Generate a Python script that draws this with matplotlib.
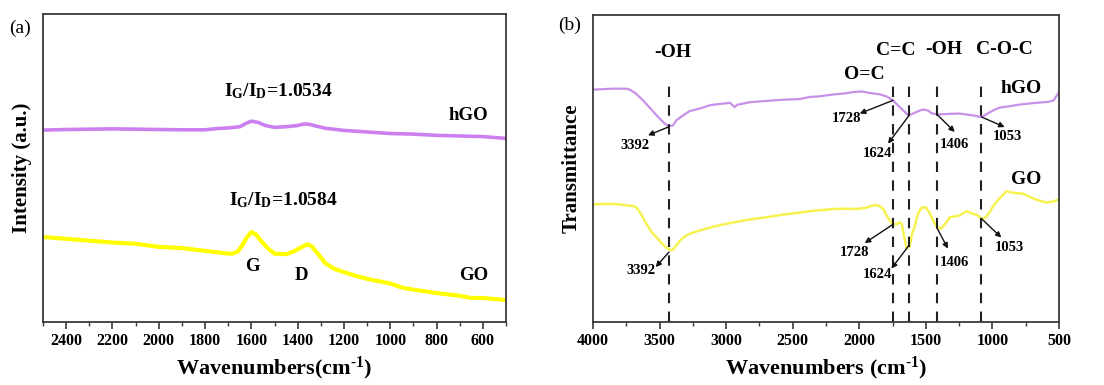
import matplotlib
matplotlib.use("Agg")
import matplotlib.pyplot as plt
import numpy as np

plt.rcParams['font.family'] = ['Liberation Serif', 'DejaVu Serif']
plt.rcParams['mathtext.fontset'] = 'custom'
plt.rcParams['mathtext.rm'] = 'Liberation Serif:bold'
plt.rcParams['mathtext.it'] = 'Liberation Serif:bold'
plt.rcParams['mathtext.bf'] = 'Liberation Serif:bold'

# ---------------- Panel (a): Raman ----------------
raman_hgo_x = [2500, 2400, 2300, 2200, 2100, 2000, 1900, 1800, 1750, 1700, 1650, 1620, 1600, 1570,
               1540, 1500, 1450, 1400, 1370, 1350, 1320, 1280, 1200, 1100, 1000, 900, 800, 700, 600, 500]
raman_hgo_y = [0.623, 0.625, 0.626, 0.627, 0.626, 0.625, 0.624, 0.624, 0.628, 0.630, 0.634, 0.646, 0.652, 0.648,
               0.638, 0.632, 0.634, 0.638, 0.643, 0.642, 0.636, 0.629, 0.622, 0.617, 0.612, 0.610, 0.606, 0.604, 0.602, 0.596]

raman_go_x = [2500, 2400, 2300, 2200, 2100, 2000, 1900, 1800, 1700, 1680, 1660, 1640, 1620, 1600, 1580,
              1560, 1530, 1500, 1450, 1420, 1400, 1380, 1360, 1340, 1320, 1300, 1280, 1240, 1200, 1150,
              1100, 1000, 950, 900, 800, 700, 650, 600, 500]
raman_go_y = [0.276, 0.270, 0.264, 0.258, 0.254, 0.244, 0.240, 0.231, 0.222, 0.222, 0.228, 0.248, 0.274, 0.292, 0.284,
              0.265, 0.240, 0.222, 0.220, 0.228, 0.236, 0.244, 0.252, 0.247, 0.228, 0.210, 0.190, 0.172, 0.162, 0.150,
              0.140, 0.125, 0.112, 0.105, 0.094, 0.085, 0.078, 0.078, 0.071]

# ---------------- Panel (b): FTIR ----------------
ftir_hgo_x = [4000, 3850, 3750, 3725, 3680, 3624, 3524, 3470, 3437, 3400, 3374, 3320, 3274, 3200, 3124,
              3050, 2973, 2950, 2936, 2915, 2898, 2823, 2700, 2573, 2450, 2373, 2300, 2197, 2100, 2047,
              1980, 1922, 1850, 1797, 1747, 1697, 1660, 1634, 1600, 1571, 1540, 1509, 1480, 1459, 1409,
              1321, 1250, 1196, 1130, 1096, 1071, 1040, 995, 950, 870, 800, 695, 582, 540, 500]
ftir_hgo_y = [0.757, 0.760, 0.760, 0.757, 0.745, 0.722, 0.674, 0.650, 0.638, 0.640, 0.657, 0.674, 0.687, 0.695, 0.706,
              0.710, 0.714, 0.706, 0.700, 0.708, 0.709, 0.716, 0.720, 0.724, 0.726, 0.733, 0.735, 0.741, 0.745, 0.749,
              0.751, 0.746, 0.742, 0.735, 0.722, 0.700, 0.685, 0.673, 0.678, 0.684, 0.690, 0.692, 0.688, 0.680, 0.676,
              0.678, 0.679, 0.676, 0.672, 0.668, 0.670, 0.678, 0.689, 0.698, 0.703, 0.708, 0.713, 0.717, 0.722, 0.749]

ftir_go_x = [4000, 3900, 3800, 3750, 3700, 3674, 3640, 3599, 3560, 3524, 3470, 3424, 3400, 3374, 3340,
             3299, 3250, 3199, 3100, 2998, 2900, 2823, 2700, 2573, 2450, 2373, 2300, 2197, 2100, 2022,
             1950, 1897, 1870, 1847, 1820, 1797, 1770, 1747, 1720, 1697, 1680, 1672, 1655, 1642, 1622,
             1605, 1584, 1560, 1534, 1502, 1472, 1440, 1409, 1384, 1350, 1321, 1246, 1196, 1146, 1110,
             1083, 1050, 1021, 990, 958, 920, 896, 850, 770, 680, 595, 540, 500]
ftir_go_y = [0.383, 0.385, 0.383, 0.380, 0.378, 0.373, 0.352, 0.320, 0.293, 0.276, 0.250, 0.235, 0.235, 0.250, 0.268,
             0.282, 0.291, 0.298, 0.310, 0.320, 0.328, 0.334, 0.341, 0.350, 0.356, 0.361, 0.364, 0.368, 0.369, 0.368,
             0.372, 0.380, 0.381, 0.377, 0.368, 0.348, 0.330, 0.318, 0.318, 0.325, 0.319, 0.300, 0.260, 0.240, 0.246,
             0.285, 0.310, 0.352, 0.372, 0.374, 0.355, 0.325, 0.306, 0.305, 0.322, 0.341, 0.347, 0.361, 0.352, 0.348,
             0.336, 0.340, 0.358, 0.380, 0.397, 0.415, 0.426, 0.421, 0.418, 0.400, 0.389, 0.393, 0.399]

dash_pos = [3429, 1747, 1626, 1416, 1083]
group_labels = ['-OH', 'O=C', 'C=C', '-OH', 'C-O-C']
group_x = [3399, 1959, 1729, 1364, 913]
group_y = [0.879, 0.807, 0.883, 0.887, 0.887]

peak_labels = ['3392', '1728', '1624', '1406', '1053']
# hGO annotations: (tail on curve), (arrow head), (text position)
hgo_tail_y = [0.636, 0.722, 0.673, 0.676, 0.668]
hgo_head = [(3587, 0.608), (1997, 0.679), (1784, 0.581), (1283, 0.619), (908, 0.635)]
hgo_text = [(3687, 0.575), (2097, 0.662), (1867, 0.548), (1283, 0.579), (890, 0.603)]
go_tail_y = [0.228, 0.318, 0.250, 0.306, 0.337]
go_head = [(3529, 0.179), (1959, 0.257), (1759, 0.174), (1334, 0.239), (933, 0.275)]
go_text = [(3637, 0.168), (2035, 0.228), (1867, 0.155), (1288, 0.195), (875, 0.244)]

c_hgo_a = '#cc80f0'
c_go_a = '#ffff00'
c_hgo_b = '#c890e8'
c_go_b = '#f6f250'
spine_c = '#3a3a3a'

fig = plt.figure(figsize=(11.04, 3.85), dpi=100)
W, H = 1104, 385
axa = fig.add_axes([43 / W, 1 - 322 / H, (506 - 43) / W, (322 - 14) / H])
axb = fig.add_axes([593 / W, 1 - 322 / H, (1059 - 593) / W, (322 - 15) / H])

for ax in (axa, axb):
    for s in ax.spines.values():
        s.set_color(spine_c)
        s.set_linewidth(1.3)
    ax.set_yticks([])
    ax.set_ylim(0, 1)
    ax.tick_params(axis='x', which='major', direction='out', length=5, width=1.2, color=spine_c, labelsize=11.5, pad=3)
    ax.tick_params(axis='x', which='minor', direction='out', length=3, width=1.0, color=spine_c)

# Panel (a)
axa.plot(raman_hgo_x, raman_hgo_y, color=c_hgo_a, lw=2.6)
axa.plot(raman_go_x, raman_go_y, color=c_go_a, lw=3.0)
axa.set_xlim(2500, 500)
axa.set_xticks(np.arange(2400, 500, -200))
axa.set_xticks(np.arange(2500, 499, -100), minor=True)
axa.set_xticklabels([str(v) for v in np.arange(2400, 500, -200)], fontweight='bold')
axa.set_xlabel('Wavenumbers(cm$^{\u2010\\mathregular{1}}$)', fontsize=16, fontweight='bold', labelpad=4)
axa.set_ylabel('Intensity (a.u.)', fontsize=15, fontweight='bold', labelpad=8)
axa.text(1484, 0.748, r'I$_\mathregular{G}$/I$_\mathregular{D}$=1.0534', fontsize=14, fontweight='bold', ha='center', va='center')
axa.text(1463, 0.395, r'I$_\mathregular{G}$/I$_\mathregular{D}$=1.0584', fontsize=14, fontweight='bold', ha='center', va='center')
axa.text(663, 0.672, 'hGO', fontsize=13.5, fontweight='bold', ha='center', va='center')
axa.text(641, 0.152, 'GO', fontsize=13.5, fontweight='bold', ha='center', va='center')
axa.text(1597, 0.179, 'G', fontsize=13.5, fontweight='bold', ha='center', va='center')
axa.text(1383, 0.152, 'D', fontsize=13.5, fontweight='bold', ha='center', va='center')

# Panel (b)
axb.plot(ftir_hgo_x, ftir_hgo_y, color=c_hgo_b, lw=1.6)
axb.plot(ftir_go_x, ftir_go_y, color=c_go_b, lw=1.8)
axb.set_xlim(4000, 500)
axb.set_xticks(np.arange(4000, 499, -500))
axb.set_xticks(np.arange(4000, 499, -250), minor=True)
axb.set_xticklabels([str(v) for v in np.arange(4000, 499, -500)], fontweight='bold')
axb.set_xlabel('Wavenumbers (cm$^{\u2010\\mathregular{1}}$)', fontsize=16, fontweight='bold', labelpad=4)
axb.set_ylabel('Transmittance', fontsize=15, fontweight='bold', labelpad=8)

for xpos in dash_pos:
    axb.axvline(xpos, ymin=0, ymax=0.78, color='#202020', lw=1.5, ls=(0, (5, 4)))

for lab, gx, gy in zip(group_labels, group_x, group_y):
    axb.text(gx, gy, lab, fontsize=14, fontweight='bold', ha='center', va='center')

for lab, xp, ty, hd, tx in zip(peak_labels, dash_pos, hgo_tail_y, hgo_head, hgo_text):
    axb.annotate('', xy=hd, xytext=(xp, ty),
                 arrowprops=dict(arrowstyle='-|>', color='#111111', lw=1.0, mutation_scale=8, shrinkA=0, shrinkB=0))
    axb.text(tx[0], tx[1], lab, fontsize=10.5, fontweight='bold', ha='center', va='center')
for lab, xp, ty, hd, tx in zip(peak_labels, dash_pos, go_tail_y, go_head, go_text):
    axb.annotate('', xy=hd, xytext=(xp, ty),
                 arrowprops=dict(arrowstyle='-|>', color='#111111', lw=1.0, mutation_scale=8, shrinkA=0, shrinkB=0))
    axb.text(tx[0], tx[1], lab, fontsize=10.5, fontweight='bold', ha='center', va='center')

axb.text(783, 0.762, 'hGO', fontsize=14, fontweight='bold', ha='center', va='center')
axb.text(745, 0.464, 'GO', fontsize=14, fontweight='bold', ha='center', va='center')

fig.text(20 / W, 1 - 28 / H, '(a)', fontsize=14, ha='center', va='center')
fig.text(570 / W, 1 - 25 / H, '(b)', fontsize=14, ha='center', va='center')

fig.savefig('out.png', dpi=100)
